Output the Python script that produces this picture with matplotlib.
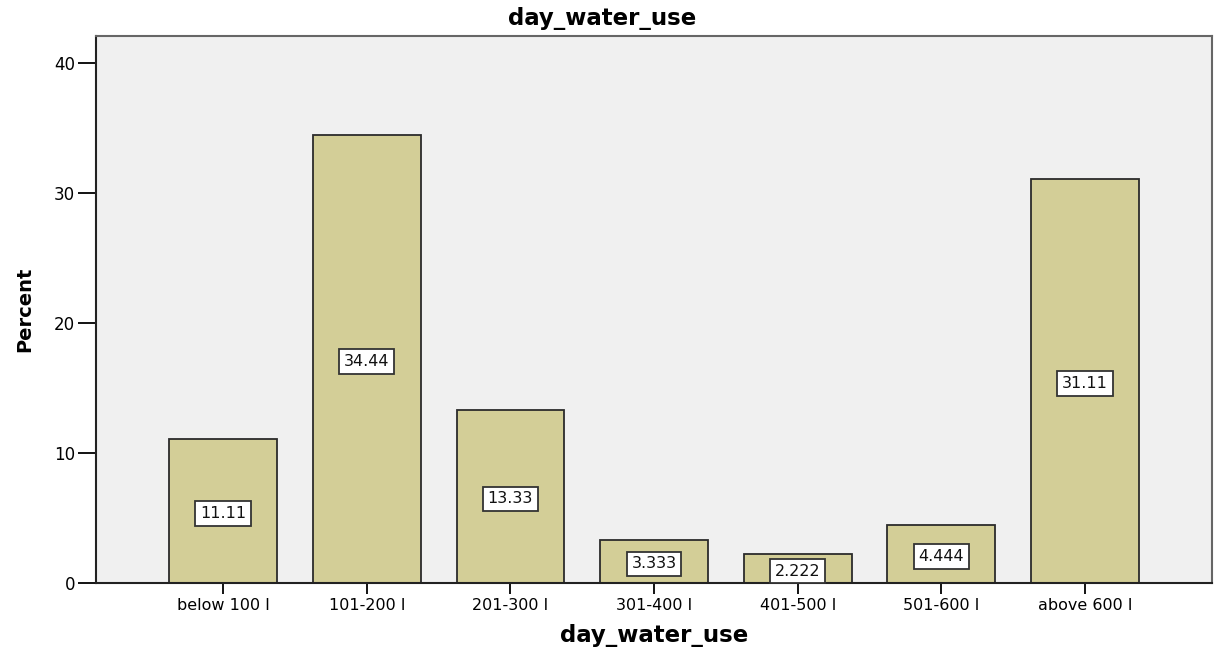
"""
Bar chart of daily water use (percent of households)
"""

import matplotlib
matplotlib.use('Agg')
import matplotlib.pyplot as plt

categories = ['below 100 l', '101-200 l', '201-300 l', '301-400 l',
              '401-500 l', '501-600 l', 'above 600 l']
percent = [11.11, 34.44, 13.33, 3.333, 2.222, 4.444, 31.11]
value_labels = ['11.11', '34.44', '13.33', '3.333', '2.222', '4.444', '31.11']
y_ticks = [0, 10, 20, 30, 40]


def set_plot_pars():
    plt.rcParams.update({'font.size': 10})
    plt.rc('font', family='DejaVu Sans')
    return plt


plt = set_plot_pars()
fig = plt.figure(figsize=(12.16, 6.49), dpi=100)
ax = fig.add_axes([0.079, 0.1017, 0.9177, 0.8428])
ax.set_facecolor('#f0f0f0')

x = list(range(len(categories)))
ax.bar(x, percent, width=0.75, color='#d3ce97', edgecolor='#2b2b2b',
       linewidth=1.3, zorder=2)

# value boxes sit at mid-height of each bar
for xi, val, lab in zip(x, percent, value_labels):
    ax.text(xi, val / 2 - 0.2, lab, ha='center', va='center', fontsize=11.5,
            color='#111111', zorder=4,
            bbox=dict(boxstyle='square,pad=0.3', facecolor='white',
                      edgecolor='#333333', linewidth=1.3))

ax.set_xlim(-0.885, 6.885)
ax.set_ylim(0, 42.08)
ax.set_yticks(y_ticks)
ax.set_xticks(x)
ax.set_xticklabels(categories, fontsize=11.5)
ax.tick_params(axis='y', direction='out', length=13, width=1.3,
               labelsize=12, pad=2)
ax.tick_params(axis='x', direction='out', length=8, width=1.3, pad=3)

for side in ['left', 'bottom']:
    ax.spines[side].set_linewidth(1.5)
    ax.spines[side].set_color('#222222')
for side in ['top', 'right']:
    ax.spines[side].set_linewidth(1.5)
    ax.spines[side].set_color('#666666')

ax.set_xlabel('day_water_use', fontsize=16.5, fontweight='bold', labelpad=8)
ax.set_ylabel('Percent', fontsize=14, fontweight='bold', labelpad=14)
fig.text(0.495, 0.972, 'day_water_use', ha='center', va='center',
         fontsize=16.5, fontweight='bold')

plt.savefig('out.png', dpi=100)
